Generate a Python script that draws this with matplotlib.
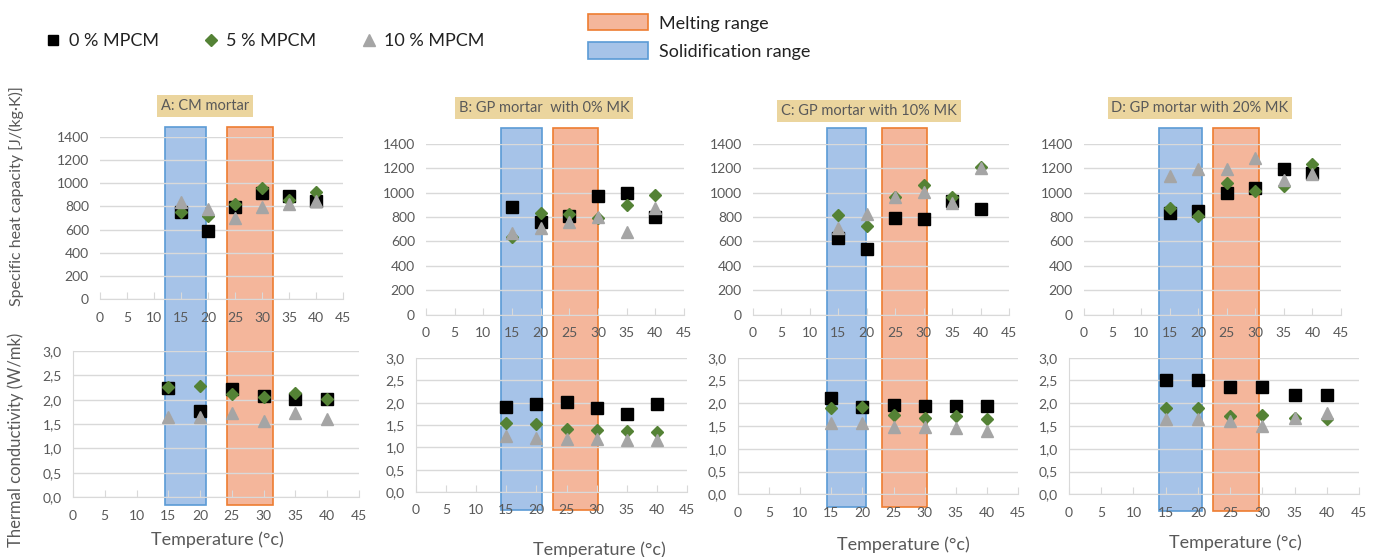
import matplotlib
matplotlib.use("Agg")
import matplotlib.pyplot as plt
import matplotlib.patches as mpatches
from matplotlib.lines import Line2D
from matplotlib.ticker import FuncFormatter

plt.rcParams["font.family"] = ["Lato", "DejaVu Sans"]

W, H = 1382, 557

# ---- data -------------------------------------------------------------
temps = [15, 20, 25, 30, 35, 40]
series_labels = ["0 % MPCM", "5 % MPCM", "10 % MPCM"]
panel_titles = ["A: CM mortar", "B: GP mortar  with 0% MK",
                "C: GP mortar with 10% MK", "D: GP mortar with 20% MK"]

# specific heat capacity [J/(kg.K)]
cp_a_0 = [750, 590, 795, 915, 886, 850]
cp_a_5 = [755, 720, 823, 958, 852, 924]
cp_a_10 = [835, 777, 704, 791, 823, 843]
cp_b_0 = [882, 761, 808, 972, 999, 802]
cp_b_5 = [633, 832, 824, 794, 898, 980]
cp_b_10 = [671, 712, 761, 802, 680, 876]
cp_c_0 = [625, 538, 789, 781, 933, 862]
cp_c_5 = [816, 726, 966, 1061, 961, 1206]
cp_c_10 = [707, 822, 960, 1007, 912, 1198]
cp_d_0 = [835, 849, 993, 1040, 1190, 1162]
cp_d_5 = [871, 808, 1075, 1012, 1056, 1233]
cp_d_10 = [1136, 1190, 1190, 1280, 1103, 1149]

# thermal conductivity (W/mK)
k_a_0 = [2.23, 1.77, 2.21, 2.07, 2.02, 2.01]
k_a_5 = [2.26, 2.28, 2.11, 2.06, 2.13, 2.01]
k_a_10 = [1.64, 1.64, 1.73, 1.56, 1.73, 1.60]
k_b_0 = [1.91, 1.97, 2.02, 1.87, 1.74, 1.98]
k_b_5 = [1.55, 1.52, 1.42, 1.39, 1.36, 1.35]
k_b_10 = [1.25, 1.22, 1.18, 1.18, 1.16, 1.16]
k_c_0 = [2.12, 1.91, 1.96, 1.95, 1.94, 1.95]
k_c_5 = [1.90, 1.92, 1.75, 1.68, 1.72, 1.66]
k_c_10 = [1.56, 1.56, 1.47, 1.47, 1.45, 1.38]
k_d_0 = [2.51, 2.51, 2.35, 2.36, 2.19, 2.18]
k_d_5 = [1.89, 1.89, 1.73, 1.74, 1.68, 1.65]
k_d_10 = [1.65, 1.65, 1.62, 1.49, 1.68, 1.79]

cp_sets = [(cp_a_0, cp_a_5, cp_a_10), (cp_b_0, cp_b_5, cp_b_10),
           (cp_c_0, cp_c_5, cp_c_10), (cp_d_0, cp_d_5, cp_d_10)]
k_sets = [(k_a_0, k_a_5, k_a_10), (k_b_0, k_b_5, k_b_10),
          (k_c_0, k_c_5, k_c_10), (k_d_0, k_d_5, k_d_10)]

# ---- style / layout (pixels) -------------------------------------------
TXT = "#595959"
GRID = "#d9d9d9"
BLUE_FC, BLUE_EC = "#a6c3e8", "#5b9bd5"
ORANGE_FC, ORANGE_EC = "#f4b69b", "#ed7d31"
MARKERS = [dict(marker="s", color="#000000", ms=9.3),
           dict(marker="D", color="#548235", ms=6.0),
           dict(marker="^", color="#a5a5a5", ms=9.0)]
LEGEND_MS = [6.5, 6.5, 8.5]

# (left, right, top, bottom) in pixels
TOP_BOXES = [(100, 343, 137, 299), (426, 684, 143.7, 314.7),
             (753, 1009, 143.7, 314.7), (1084, 1341, 143.7, 314.7)]
BOT_BOXES = [(73, 359, 351, 497), (416, 687, 358, 492),
             (738, 1018, 357.7, 494.3), (1069, 1359, 357.7, 494.3)]
# (blue x0, blue x1, orange x0, orange x1, top, bottom)
BANDS = [(165, 206, 227, 273, 127, 505), (501, 542, 553, 598, 128, 510),
         (827, 866, 882, 927, 128, 507), (1159, 1202, 1213, 1259, 128, 511)]
TITLE_POS = [(205, 106), (544, 108), (869, 111), (1200, 108)]
XLABEL_POS = [(217, 540), (599, 550), (903, 545), (1235, 543)]


def frac(l, r, t, b):
    return [l / W, 1 - b / H, (r - l) / W, (b - t) / H]


def style_axes(ax, left_spine):
    ax.set_facecolor("none")
    for s in ["top", "right"]:
        ax.spines[s].set_visible(False)
    ax.spines["left"].set_visible(left_spine)
    ax.spines["left"].set_color(GRID)
    ax.spines["bottom"].set_color(GRID)
    ax.yaxis.grid(True, color=GRID, lw=1)
    ax.set_axisbelow(True)
    ax.set_xlim(0, 45)
    ax.set_xticks(range(0, 50, 5))
    ax.tick_params(axis="x", direction="in", length=5, color=GRID,
                   labelcolor=TXT, labelsize=10, pad=9)
    ax.tick_params(axis="y", length=0, labelcolor=TXT, labelsize=10, pad=8)


fig = plt.figure(figsize=(W / 100, H / 100), dpi=100)

for i in range(4):
    bx0, bx1, ox0, ox1, bt, bb = BANDS[i]
    for x0, x1, fc, ec in [(bx0, bx1, BLUE_FC, BLUE_EC),
                           (ox0, ox1, ORANGE_FC, ORANGE_EC)]:
        fig.patches.append(mpatches.Rectangle(
            (x0 / W, 1 - bb / H), (x1 - x0) / W, (bb - bt) / H,
            transform=fig.transFigure, facecolor=fc, edgecolor=ec,
            lw=1.2, zorder=-1))

    ax1 = fig.add_axes(frac(*TOP_BOXES[i]))
    style_axes(ax1, left_spine=False)
    ax1.set_ylim(0, 1400)
    ax1.set_yticks(range(0, 1600, 200))
    for vals, mk, lab in zip(cp_sets[i], MARKERS, series_labels):
        ax1.plot(temps, vals, ls="none", marker=mk["marker"],
                 color=mk["color"], ms=mk["ms"], mec=mk["color"],
                 label=lab, clip_on=False)

    ax2 = fig.add_axes(frac(*BOT_BOXES[i]))
    style_axes(ax2, left_spine=True)
    ax2.set_ylim(0, 3.0)
    ax2.set_yticks([0, 0.5, 1.0, 1.5, 2.0, 2.5, 3.0])
    ax2.yaxis.set_major_formatter(
        FuncFormatter(lambda v, _: f"{v:.1f}".replace(".", ",")))
    for vals, mk in zip(k_sets[i], MARKERS):
        ax2.plot(temps, vals, ls="none", marker=mk["marker"],
                 color=mk["color"], ms=mk["ms"], mec=mk["color"],
                 clip_on=False)

    tx, ty = TITLE_POS[i]
    fig.text(tx / W, 1 - ty / H, panel_titles[i], ha="center", va="center",
             fontsize=10.5, color=TXT,
             bbox=dict(boxstyle="square,pad=0.25", facecolor="#ebd59e",
                       edgecolor="none"))
    lx, ly = XLABEL_POS[i]
    fig.text(lx / W, 1 - ly / H, "Temperature (°c)", ha="center",
             va="center", fontsize=13, color=TXT)

fig.text(16 / W, 1 - 196 / H, "Specific heat capacity [J/(kg·K)]",
         rotation=90, ha="center", va="center", fontsize=11.5, color=TXT)
fig.text(16 / W, 1 - 440 / H, "Thermal conductivity (W/mk)",
         rotation=90, ha="center", va="center", fontsize=12, color=TXT)

series_handles = [Line2D([], [], ls="none", marker=mk["marker"],
                         color=mk["color"], ms=ms)
                  for mk, ms in zip(MARKERS, LEGEND_MS)]
fig.legend(handles=series_handles, labels=series_labels, ncol=3,
           frameon=False, loc="center left",
           bbox_to_anchor=(28 / W, 1 - 41 / H), fontsize=13,
           handlelength=1.0, handletextpad=0.35, columnspacing=2.4,
           labelcolor="#222222")

range_handles = [
    mpatches.Patch(facecolor=ORANGE_FC, edgecolor=ORANGE_EC, lw=1.2,
                   label="Melting range"),
    mpatches.Patch(facecolor=BLUE_FC, edgecolor=BLUE_EC, lw=1.2,
                   label="Solidification range"),
]
fig.legend(handles=range_handles, frameon=False, loc="upper left",
           bbox_to_anchor=(572 / W, 1 + 2 / H), fontsize=13,
           handlelength=3.3, handleheight=1.0, handletextpad=0.6,
           labelspacing=0.6, labelcolor="#222222")

fig.savefig("out.png", dpi=100, facecolor="white")
